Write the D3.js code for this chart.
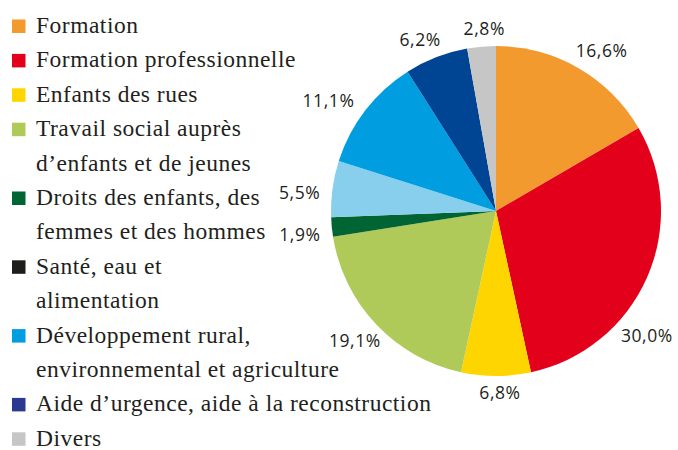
<!DOCTYPE html>
<html>
<head>
<meta charset="utf-8">
<script src="https://cdn.jsdelivr.net/npm/d3@7/dist/d3.min.js"></script>
</head>
<body style="margin:0">
<div id="chart"></div>
<script>
// ---------- Data ----------
// Légende (une entrée par catégorie, lignes coupées comme dans l'original)
const LEGEND_LINES = [
  ["Formation"],
  ["Formation professionnelle"],
  ["Enfants des rues"],
  ["Travail social auprès", "d’enfants et de jeunes"],
  ["Droits des enfants, des", "femmes et des hommes"],
  ["Santé, eau et", "alimentation"],
  ["Développement rural,", "environnemental et agriculture"],
  ["Aide d’urgence, aide à la reconstruction"],
  ["Divers"]
];
const LEGEND_COLORS = ["#f39a2e", "#e2001a", "#ffd500", "#afca59", "#006532",
                       "#1d1d1b", "#009ee0", "#2b3990", "#c6c6c6"];

// Secteurs du camembert (sens horaire depuis midi)
const SLICE_VALUES = [16.6, 30.0, 6.8, 19.1, 1.9, 5.5, 11.1, 6.2, 2.8];
const SLICE_LABELS = ["16,6%", "30,0%", "6,8%", "19,1%", "1,9%", "5,5%", "11,1%", "6,2%", "2,8%"];
const SLICE_COLORS = ["#f39a2e", "#e2001a", "#ffd500", "#afca59", "#006532",
                      "#87cfec", "#009ee0", "#004494", "#c6c6c6"];

// ---------- Draw ----------
const W = 678, H = 450;

const svg = d3.select("#chart").append("svg")
  .attr("width", W).attr("height", H)
  .style("display", "block");

// Legend
const LINE_H = 34.4, FIRST_BASE = 33;
let lineIdx = 0;
LEGEND_LINES.forEach((lines, i) => {
  const base = FIRST_BASE + lineIdx * LINE_H;
  svg.append("rect")
    .attr("x", 12).attr("y", base - 13.5)
    .attr("width", 13.5).attr("height", 13.5)
    .attr("fill", LEGEND_COLORS[i]);
  lines.forEach((ln, j) => {
    svg.append("text")
      .attr("x", 36).attr("y", base + j * LINE_H)
      .style("font-family", `"Liberation Serif"`)
      .style("font-size", "23.5px")
      .style("letter-spacing", "0.5px")
      .attr("fill", "#231f20")
      .text(ln);
  });
  lineIdx += lines.length;
});

// Pie
const cx = 496, cy = 211, R = 165;
const pie = d3.pie().sort(null).value(d => d);
const arcs = pie(SLICE_VALUES);
const arc = d3.arc().innerRadius(0).outerRadius(R);
const labelArc = d3.arc().innerRadius(190).outerRadius(190);

svg.selectAll("path.slice")
  .data(arcs)
  .join("path")
  .attr("class", "slice")
  .attr("transform", `translate(${cx},${cy})`)
  .attr("d", arc)
  .attr("fill", (d, i) => SLICE_COLORS[i]);

// petits décalages manuels des étiquettes (comme l'original)
const NUDGE = [[11, 4], [-23, 48], [4, -8], [-3, -1], [-7, 5], [-8, 7], [-17, 6], [-7, 6], [5, 7]];

arcs.forEach((d, i) => {
  const [lx, ly] = labelArc.centroid(d);
  svg.append("text")
    .attr("x", cx + lx + NUDGE[i][0])
    .attr("y", cy + ly + NUDGE[i][1])
    .attr("dy", "0.36em")
    .attr("text-anchor", "middle")
    .style("font-family", `"Open Sans"`)
    .style("font-size", "17.5px")
    .style("letter-spacing", "0.6px")
    .attr("fill", "#231f20")
    .text(SLICE_LABELS[i]);
});
</script>
</body>
</html>
